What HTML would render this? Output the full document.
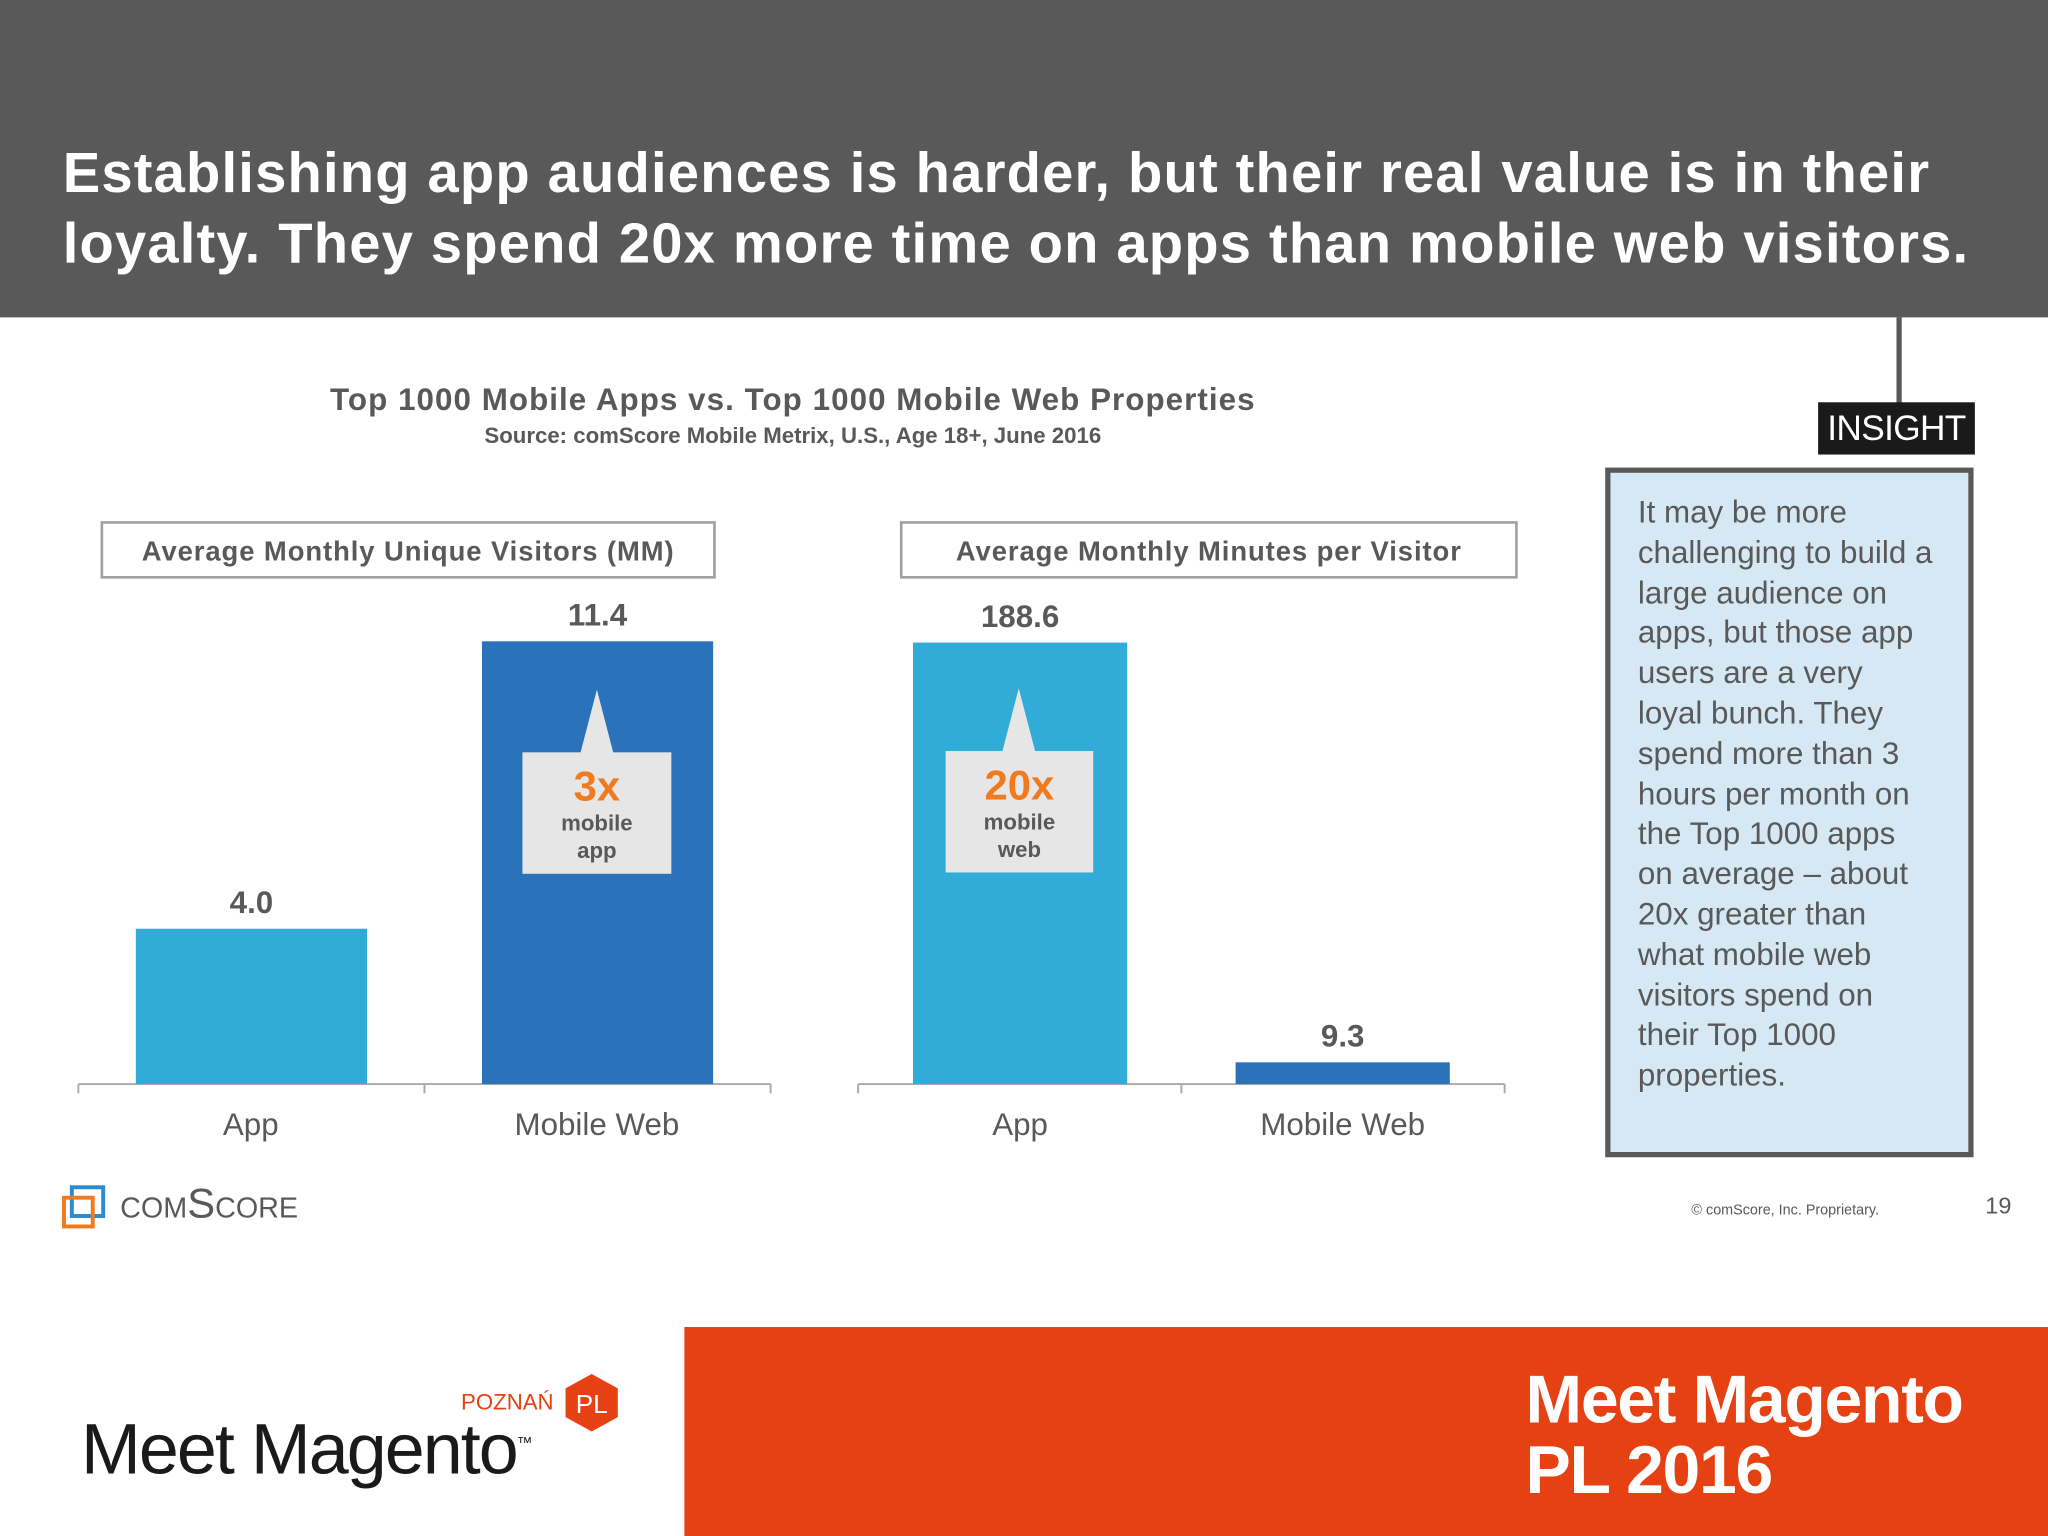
<!DOCTYPE html>
<html><head><meta charset="utf-8"><style>
html,body{margin:0;padding:0;width:2048px;height:1536px;overflow:hidden;background:#fff}
#wrap{position:absolute;left:0;top:0;width:1568px;height:1176px;transform:scale(1.306122);transform-origin:0 0;font-family:"Liberation Sans",sans-serif;color:#595959}
.abs{position:absolute}
</style></head><body>
<div id="wrap">
<div class="abs" style="left:0;top:0;width:1568px;height:243px;background:#595959"></div>
<div class="abs" style="left:48px;top:106px;width:1510px;color:#fff;font-weight:bold;font-size:43px;line-height:54px;letter-spacing:0.9px;white-space:nowrap">Establishing app audiences is harder, but their real value is in their<br>loyalty. They spend 20x more time on apps than mobile web visitors.</div>
<div class="abs" style="left:1452px;top:243px;width:4px;height:66px;background:#595959"></div>
<div class="abs" style="left:1392px;top:308px;width:120px;height:40px;background:#1a1a1a;color:#fff;font-size:27px;line-height:40px;text-align:center;letter-spacing:-0.5px">INSIGHT</div>
<div class="abs" style="left:1229px;top:358px;width:274px;height:520px;background:#d5e8f3;border:4px solid #595959"></div>
<div class="abs" style="left:1254px;top:378px;width:228px;font-size:24px;line-height:30.8px;color:#595959">It may be more challenging to build a large audience on apps, but those app users are a very loyal bunch. They spend more than 3 hours per month on the Top 1000 apps on average – about 20x greater than what mobile web visitors spend on their Top 1000 properties.</div>
<div class="abs" style="left:157px;top:293px;width:900px;text-align:center;font-weight:bold;font-size:24px;letter-spacing:0.8px">Top 1000 Mobile Apps vs. Top 1000 Mobile Web Properties</div>
<div class="abs" style="left:207px;top:324px;width:800px;text-align:center;font-weight:bold;font-size:17px">Source: comScore Mobile Metrix, U.S., Age 18+, June 2016</div>
<div class="abs" style="left:77px;top:399px;width:467px;height:40px;border:2px solid #a0a0a0;text-align:center;font-weight:bold;font-size:21px;line-height:44px;letter-spacing:0.7px">Average Monthly Unique Visitors (MM)</div>
<div class="abs" style="left:689px;top:399px;width:469px;height:40px;border:2px solid #a0a0a0;text-align:center;font-weight:bold;font-size:21px;line-height:44px;letter-spacing:0.7px">Average Monthly Minutes per Visitor</div>
<svg class="abs" style="left:0;top:0" width="1568" height="1176">
<g id="c1"></g><g id="c2"></g>
</svg>
<div class="abs" style="left:400px;top:576px;width:114px;height:93px;background:#e6e6e6;text-align:center">
<svg class="abs" style="left:44px;top:-48px" width="26" height="50"><polygon points="13,0 26,50 0,50" fill="#e6e6e6"/></svg>
<div style="color:#f07b1f;font-weight:bold;font-size:32px;line-height:36px;margin-top:8px">3x</div>
<div style="font-weight:bold;font-size:17px;line-height:21px">mobile<br>app</div></div>
<div class="abs" style="left:724px;top:575px;width:113px;height:93px;background:#e6e6e6;text-align:center">
<svg class="abs" style="left:43px;top:-48px" width="26" height="50"><polygon points="13,0 26,50 0,50" fill="#e6e6e6"/></svg>
<div style="color:#f07b1f;font-weight:bold;font-size:32px;line-height:36px;margin-top:8px">20x</div>
<div style="font-weight:bold;font-size:17px;line-height:21px">mobile<br>web</div></div>
<div class="abs" style="left:46px;top:903px;height:40px">
<svg width="36" height="36" style="position:absolute;left:0;top:3px"><rect x="9" y="3" width="24" height="22" fill="none" stroke="#2a8bcf" stroke-width="3"/><rect x="3" y="11" width="22" height="22" fill="none" stroke="#f07b1f" stroke-width="3"/></svg>
<div style="position:absolute;left:46px;top:0;font-size:32px;color:#595959;font-variant:small-caps;white-space:nowrap">comScore</div></div>
<div class="abs" style="left:1295px;top:921px;font-size:11px">© comScore, Inc. Proprietary.</div>
<div class="abs" style="left:1520px;top:913px;font-size:18px">19</div>
<div class="abs" style="left:524px;top:1016px;width:1044px;height:160px;background:#e54112"></div>
<div class="abs" style="left:1168px;top:1045px;color:#fff;font-weight:bold;font-size:52px;line-height:54px;letter-spacing:-1px">Meet Magento<br>PL 2016</div>
<div class="abs" style="left:62px;top:1077px;font-size:55px;color:#1a1a1a;letter-spacing:-1.5px;white-space:nowrap">Meet Magento<sup style="font-size:12px">™</sup></div>
<div class="abs" style="left:353px;top:1064px;font-size:17px;color:#e54112">POZNAŃ</div>
<svg class="abs" style="left:432px;top:1051px" width="42" height="46"><polygon points="21,1 41,12 41,34 21,45 1,34 1,12" fill="#e54112"/><text x="21" y="31" text-anchor="middle" fill="#fff" font-size="20" font-family="Liberation Sans">PL</text></svg>
</div>
<script>
const cats = ["App","Mobile Web"];
const visitors = [4.0,11.4];
const minutes = [188.6,9.3];
const colors = ["#31acd8","#2a72b9"];
const ns="http://www.w3.org/2000/svg";
function mk(t,a,p){const e=document.createElementNS(ns,t);for(const k in a)e.setAttribute(k,a[k]);p.appendChild(e);return e;}
function draw(gid,vals,axL,axR,barX,barW,pxPer,labels){
 const g=document.getElementById(gid);const base=830;
 const ax=mk('path',{d:`M${axL},${base}H${axR}M${axL},${base}v7M${(axL+axR)/2},${base}v7M${axR},${base}v7`,stroke:'#aaa','stroke-width':1.5,fill:'none'},g);
 
 
 vals.forEach((v,i)=>{
  const h=v*pxPer;
  const r=mk('rect',{x:barX[i],y:base-h,width:barW,height:h,fill:colors[i]},g);
  
  
  const t=mk('text',{x:barX[i]+barW/2,y:base-h-12,'text-anchor':'middle','font-size':24,'font-weight':'bold',fill:'#595959','font-family':'Liberation Sans'},g);
  t.textContent=v.toFixed(1);
  
  
  const c=mk('text',{x:labels[i],y:869,'text-anchor':'middle','font-size':24,fill:'#595959','font-family':'Liberation Sans'},g);
  c.textContent=cats[i];
  
  
 });
}
draw('c1',visitors,60,590,[104,369],177,339/11.4,[192,457]);
draw('c2',minutes,657,1152,[699,946],164,338/188.6,[781,1028]);
</script>
</body></html>
